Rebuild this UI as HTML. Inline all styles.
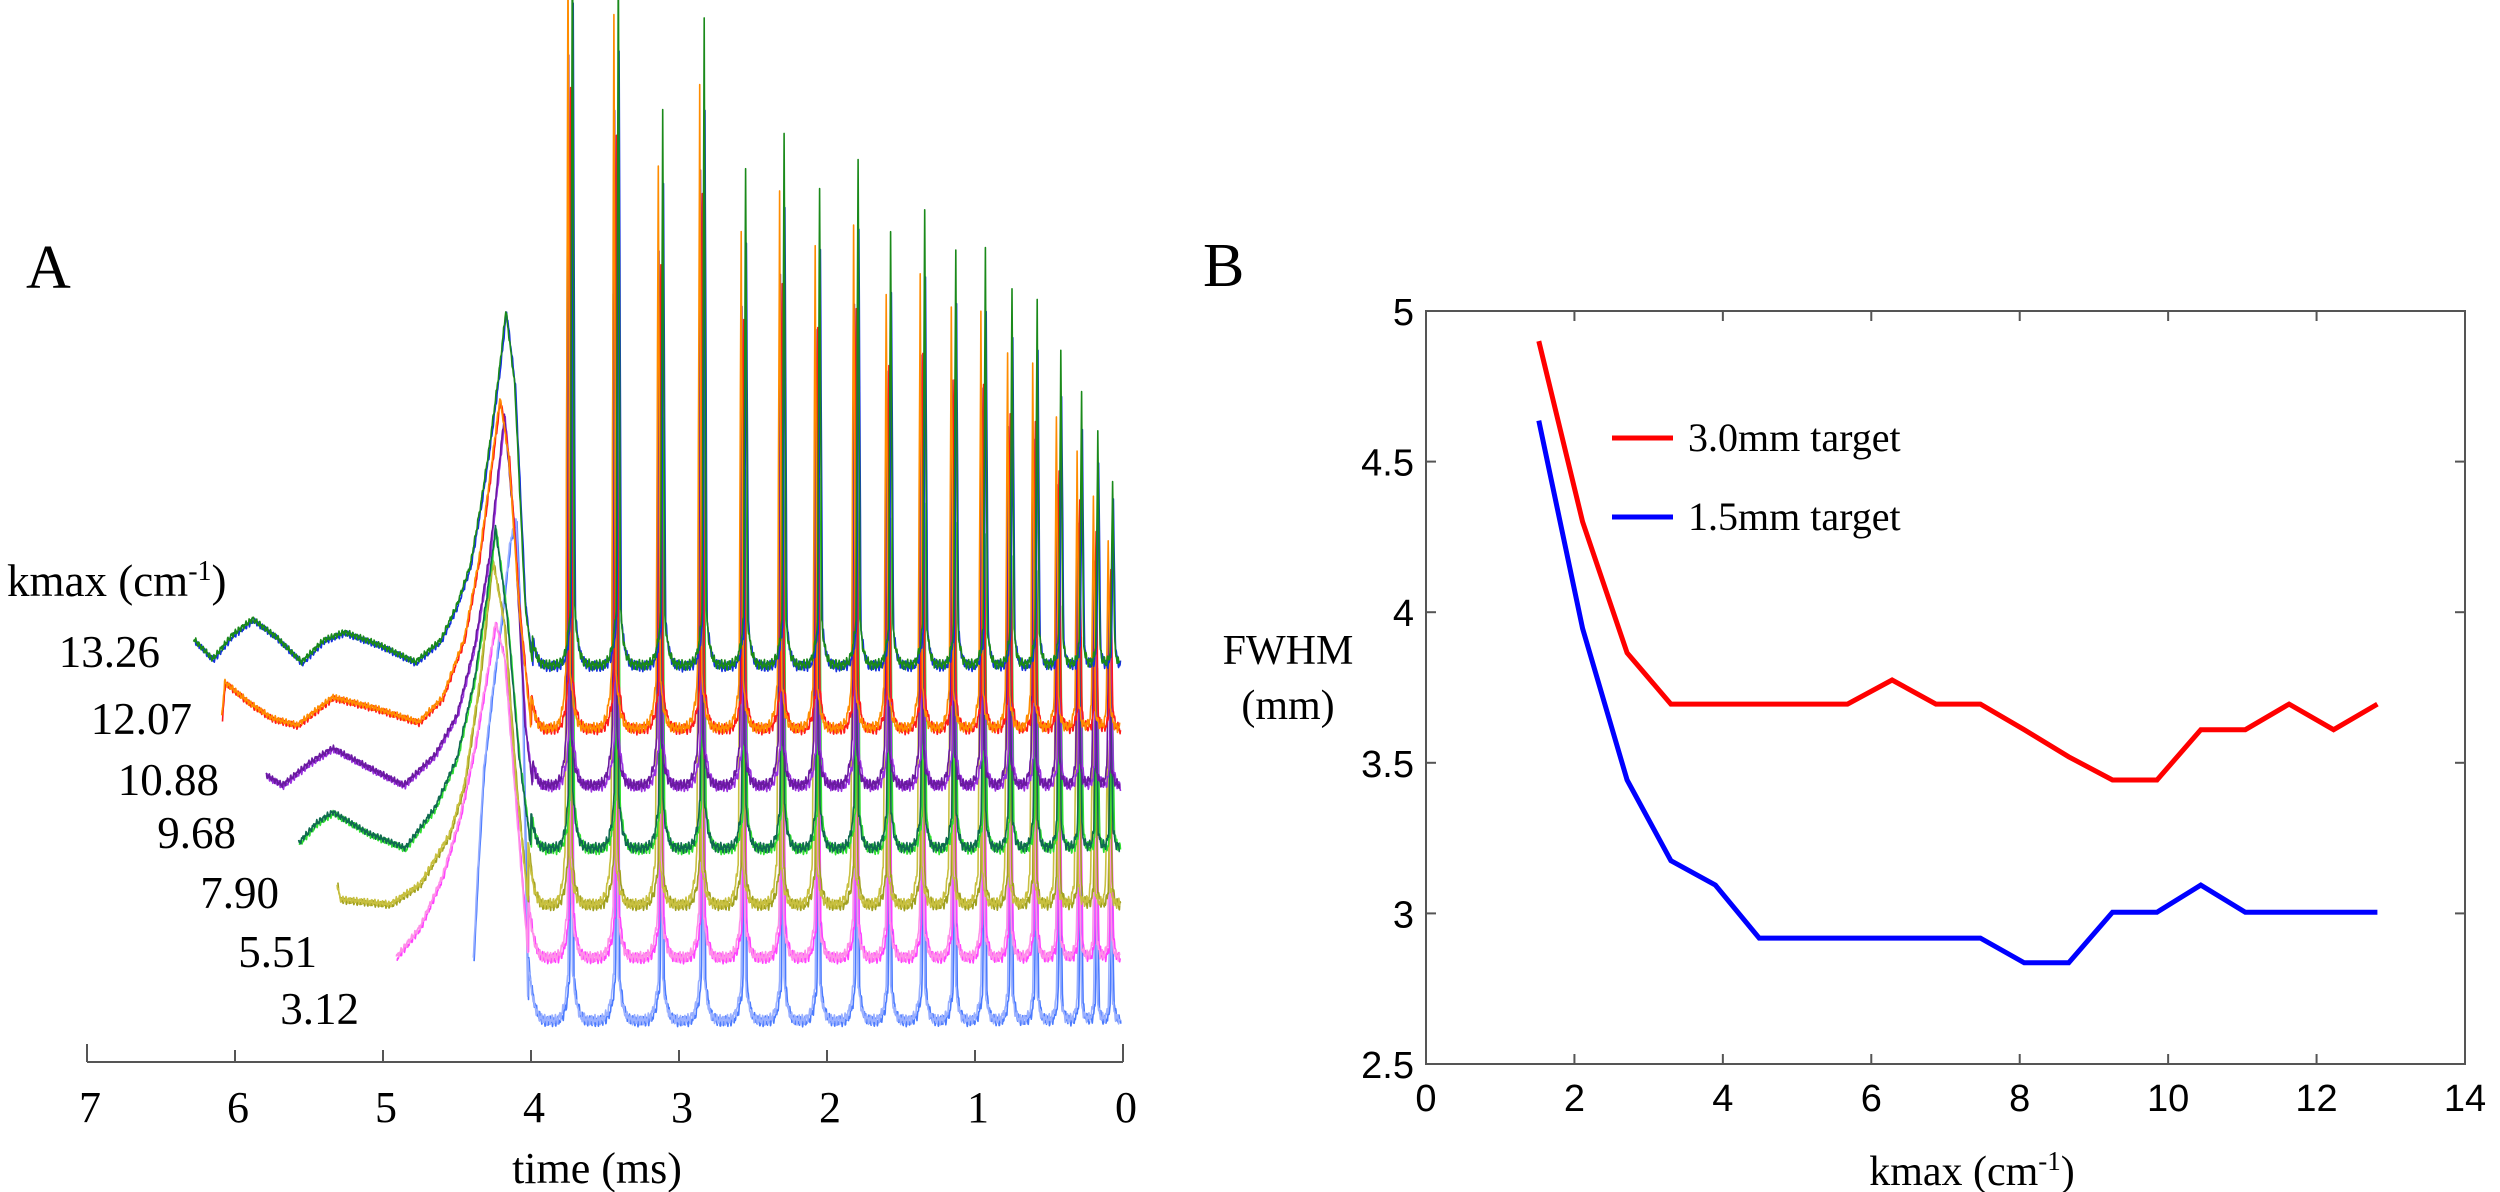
<!DOCTYPE html>
<html><head><meta charset="utf-8"><style>
html,body{margin:0;padding:0;background:#fff;}
svg{display:block;}
.serif{font-family:"Liberation Serif",serif;fill:#000;}
.sans{font-family:"Liberation Sans",sans-serif;fill:#000;}
</style></head><body>
<svg id="fig" width="2500" height="1192" viewBox="0 0 2500 1192" xmlns="http://www.w3.org/2000/svg">
<rect width="2500" height="1192" fill="#fff"/>
<g id="panelA">
  <text class="serif" x="26" y="288" font-size="62">A</text>
  <text class="serif" x="7" y="596" font-size="45">kmax (cm<tspan dy="-16" font-size="28">-1</tspan><tspan dy="16">)</tspan></text>
  <g id="traces"></g>
  <g id="traceLabels"></g>
  <g id="axisA"></g>
  <text class="serif" x="597" y="1183" font-size="44" text-anchor="middle">time (ms)</text>
</g>
<g id="panelB">
  <text class="serif" x="1203" y="286" font-size="62">B</text>
  <g id="axisB"></g>
  <g id="linesB"></g>
  <text class="serif" x="1288" y="664" font-size="42" text-anchor="middle">FWHM</text>
  <text class="serif" x="1288" y="719" font-size="42" text-anchor="middle">(mm)</text>
  <text class="serif" x="1972" y="1185" font-size="42" text-anchor="middle">kmax (cm<tspan dy="-15" font-size="27">-1</tspan><tspan dy="15">)</tspan></text>
  <g>
    <line x1="1612" y1="438" x2="1673" y2="438" stroke="#ff0000" stroke-width="5"/>
    <text class="serif" x="1688" y="451" font-size="40">3.0mm target</text>
    <line x1="1612" y1="517" x2="1673" y2="517" stroke="#0000ff" stroke-width="5"/>
    <text class="serif" x="1688" y="530" font-size="40">1.5mm target</text>
  </g>
</g>
</svg>
<script>
// ---------- Panel B data ----------
const kmaxValues = [1.52,2.11,2.71,3.30,3.90,4.49,5.09,5.68,6.28,6.87,7.47,8.06,8.66,9.25,9.85,10.44,11.04,11.63,12.23,12.82];
const fwhm3mm = [4.90,4.30,3.865,3.695,3.695,3.695,3.695,3.695,3.775,3.695,3.695,3.61,3.52,3.443,3.443,3.61,3.61,3.695,3.61,3.695];
const fwhm15mm = [4.636,3.946,3.443,3.175,3.094,2.918,2.918,2.918,2.918,2.918,2.918,2.836,2.836,3.004,3.004,3.094,3.004,3.004,3.004,3.004];
const xTicksB = [0,2,4,6,8,10,12,14];
const yTicksB = [2.5,3,3.5,4,4.5,5];
const yTickLabelsB = ["2.5","3","3.5","4","4.5","5"];

// ---------- Panel A data ----------
const kmaxLabels = ["13.26","12.07","10.88","9.68","7.90","5.51","3.12"];
const traceBaselines = [0,63,120,183,239,292,355];
const spikeTimes = [3.72,3.41,3.11,2.83,2.55,2.29,2.05,1.79,1.57,1.34,1.13,0.93,0.75,0.58,0.42,0.28,0.17,0.07];
const spikeHeights = [656,607,469,548,414,445,397,422,356,374,345,340,307,294,251,213,178,137];
const spikeScale = [1,1,0.95,0.9,0.85,0.8,0.75];
const spikeShift = [0,0.03,0.025,0.012,0.035,0.02,0.015];
const preWaveT = [
 [6.28,6.15,6.02,5.88,5.72,5.55,5.40,5.26,5.02,4.78,4.61,4.50,4.41,4.34,4.28,4.21,4.17,4.11,4.04,3.99],
 [6.09,6.07,6.02,5.90,5.75,5.58,5.34,5.05,4.76,4.60,4.45,4.35,4.27,4.21,4.15,4.08,4.00],
 [5.79,5.68,5.50,5.34,5.10,4.86,4.65,4.50,4.38,4.28,4.18,4.11,4.04,3.99],
 [5.57,5.45,5.34,5.10,4.85,4.65,4.50,4.38,4.30,4.24,4.16,4.08,4.00],
 [5.31,5.29,4.95,4.75,4.55,4.45,4.35,4.26,4.18,4.10,4.02],
 [4.91,4.75,4.60,4.48,4.38,4.30,4.24,4.18,4.10,4.02],
 [4.39,4.36,4.32,4.26,4.20,4.14,4.10,4.06,4.02]
];
const preWaveV = [
 [26,6,30,46,28,3,25,33,20,3,25,60,100,160,220,300,355,280,60,0],
 [10,46,40,25,10,3,31,20,6,30,90,170,260,330,270,120,0],
 [10,0,22,37,18,0,30,70,140,230,370,250,60,0],
 [5,25,36,15,0,40,90,170,250,320,230,90,0],
 [20,5,0,20,70,120,220,345,280,120,0],
 [0,30,80,140,210,280,335,300,150,0],
 [60,150,250,330,400,480,500,350,0]
];
const colorsA = [["#1a8a1a","#1530e0"],["#ff8c00","#ff1a1a"],["#6a1aa0","#9a30e0"],["#106a50","#30e030"],["#c8c040","#a0a020"],["#ff90e8","#ff40ff"],["#9ab0ff","#4a7aff"]];

const NS = "http://www.w3.org/2000/svg";
function mk(tag, attrs, parent){ const e=document.createElementNS(NS,tag); for(const k in attrs) e.setAttribute(k,attrs[k]); parent.appendChild(e); return e; }

const axA = {x0:1123, pxPerMs:148, y:1062, base0:665};
const xA = t => axA.x0 - t*axA.pxPerMs;
const gAx = document.getElementById('axisA');
const axLine = mk('line',{x1:xA(7),y1:axA.y,x2:xA(0),y2:axA.y,stroke:'#555','stroke-width':2},gAx);


for(let t=0;t<=7;t++){
  const len = (t===0||t===7)?18:12;
  const tk = mk('line',{x1:xA(t),y1:axA.y,x2:xA(t),y2:axA.y-len,stroke:'#555','stroke-width':2},gAx);
  
  
  const lb = mk('text',{x:xA(t)+3,y:1122,'font-size':44,'text-anchor':'middle',class:'serif'},gAx);
  lb.textContent = String(t);
  
  
}

const labelRight = [160,192,219,236,279,317,359];
const gL = document.getElementById('traceLabels');
kmaxLabels.forEach((s,i)=>{
  const lb = mk('text',{x:labelRight[i],y:axA.base0+2+traceBaselines[i]+[0,4,8,-2,2,8,2][i],'font-size':45,'text-anchor':'end',class:'serif'},gL);
  lb.textContent = s;
  
  
});

function interp(ts, vs, t){
  for(let j=0;j<ts.length-1;j++){
    if(t<=ts[j] && t>=ts[j+1]){ const f=(ts[j]-t)/(ts[j]-ts[j+1]); return vs[j]+(vs[j+1]-vs[j])*f; }
  }
  return 0;
}
function signal(i, t, alt){
  const ts = preWaveT[i], vs = preWaveV[i];
  let v = 0;
  const ripple = 3*Math.sin(t*260+i*1.7+alt*2.1) + 2.5*Math.sin(t*610+i*0.9+alt*1.3);
  if(t > ts[ts.length-1]){
    return interp(ts, vs, t) + ripple*0.6;
  }
  const sh = spikeShift[i]*(alt?0.6:1);
  let a = 4.0, b = spikeTimes[0]+sh;
  for(let k=0;k<spikeTimes.length;k++){
    const s = spikeTimes[k]+sh;
    if(t<=s){ a=s; b = k+1<spikeTimes.length?spikeTimes[k+1]+sh:-0.05; }
  }
  const u = (a-t)/(a-b);
  v += 34*Math.pow(2*u-1,4);
  for(let k=0;k<spikeTimes.length;k++){
    const d = Math.abs(t-spikeTimes[k]-sh);
    const h = spikeHeights[k]*spikeScale[i]*(alt?0.85:1);
    if(d<0.014) v += h*(1-d/0.014);
    v += 0.12*h*Math.exp(-d/0.02);
  }
  return v + ripple;
}
const gT = document.getElementById('traces');
for(let i=kmaxLabels.length-1;i>=0;i--){
  for(let alt=1;alt>=0;alt--){
    const t0 = preWaveT[i][0];
    let d = '';
    for(let t=t0; t>=0.02; t-=0.0025){
      const x = xA(t) + (alt?0.8:0);
      const y = axA.base0 + traceBaselines[i] - signal(i,t,alt) + (alt?1.5:0);
      d += (d?'L':'M') + x.toFixed(1)+','+y.toFixed(1);
    }
    const p = mk('path',{d:d,fill:'none',stroke:colorsA[i][alt],'stroke-width':1.6,'stroke-linejoin':'round'},gT);
    
    
  }
}

const bx0=1426, bx1=2465, by0=1064, by1=311;
const xB = k => bx0 + k*(bx1-bx0)/14;
const yB = v => by0 - (v-2.5)*(by0-by1)/2.5;
const gB = document.getElementById('axisB');
const box = mk('rect',{x:bx0,y:by1,width:bx1-bx0,height:by0-by1,fill:'none',stroke:'#555','stroke-width':2},gB);


xTicksB.forEach(k=>{
  const t1 = mk('line',{x1:xB(k),y1:by0,x2:xB(k),y2:by0-10,stroke:'#555','stroke-width':2},gB);
  
  
  const t2 = mk('line',{x1:xB(k),y1:by1,x2:xB(k),y2:by1+10,stroke:'#555','stroke-width':2},gB);
  
  
  const lb = mk('text',{x:xB(k),y:1111,'font-size':38,'text-anchor':'middle',class:'sans'},gB);
  lb.textContent = String(k);
  
  
});
yTicksB.forEach((v,j)=>{
  const t1 = mk('line',{x1:bx0,y1:yB(v),x2:bx0+10,y2:yB(v),stroke:'#555','stroke-width':2},gB);
  
  
  const t2 = mk('line',{x1:bx1,y1:yB(v),x2:bx1-10,y2:yB(v),stroke:'#555','stroke-width':2},gB);
  
  
  const lb = mk('text',{x:1414,y:yB(v)+14,'font-size':38,'text-anchor':'end',class:'sans'},gB);
  lb.textContent = yTickLabelsB[j];
  
  
});
const gLB = document.getElementById('linesB');
function drawLine(vals, color, name){
  const d = vals.map((v,j)=>(j?'L':'M')+xB(kmaxValues[j]).toFixed(1)+','+yB(v).toFixed(1)).join('');
  const p = mk('path',{d:d,fill:'none',stroke:color,'stroke-width':5,'stroke-linejoin':'miter'},gLB);
  
  
}
drawLine(fwhm3mm,'#ff0000','line-3mm-target');
drawLine(fwhm15mm,'#0000ff','line-1-5mm-target');
</script>
</body></html>
